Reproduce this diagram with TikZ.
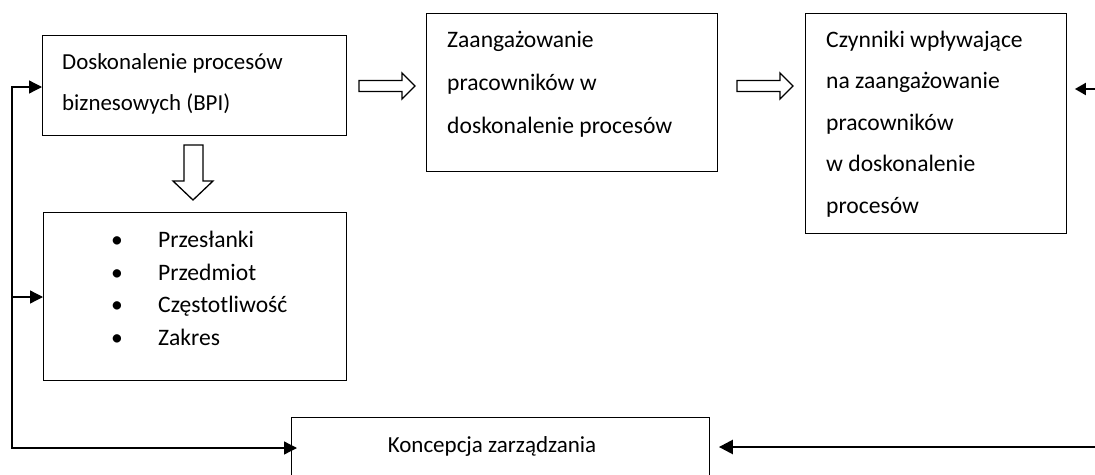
\documentclass[tikz,border=0pt]{standalone}
\usepackage{fontspec}
\setmainfont{Carlito}
\usetikzlibrary{arrows.meta}
\begin{document}
\begin{tikzpicture}[x=1pt,y=-1pt,
  >={Triangle[length=13pt,width=13pt]},
  box/.style={draw, line width=0.9pt, inner sep=0pt, anchor=north west},
  txt/.style={anchor=base west, align=left, inner sep=0pt},
  conn/.style={line width=1.3pt},
  heavy/.style={line width=2.5pt, -{Triangle[length=14pt,width=14pt]}},
  blockarrow/.style={draw, line width=1.3pt, fill=white, line join=miter}
]
\useasboundingbox (0,0) rectangle (1095,474);
% boxes
\node[box, minimum width=304, minimum height=100] (bpi) at (42,35) {};
\node[box, minimum width=291, minimum height=158] (zaang) at (426,13) {};
\node[box, minimum width=261, minimum height=220] (czyn) at (805,13) {};
\node[box, minimum width=303, minimum height=168] (lista) at (43,212) {};
\node[box, minimum width=418, minimum height=75] (konc) at (291,417) {};
% texts (anchored at the baseline of their last line)
\node[txt, font=\fontsize{22.9}{41}\selectfont] (tbpi) at (62,110) {Doskonalenie procesów\\biznesowych (BPI)};
\node[txt, font=\fontsize{23.6}{43}\selectfont] (tzaang) at (447,133) {Zaangażowanie\\pracowników w\\doskonalenie procesów};
\node[txt, font=\fontsize{23.6}{41.5}\selectfont] (tczyn) at (826,213) {Czynniki wpływające\\na zaangażowanie\\pracowników\\w doskonalenie\\procesów};
\node[txt, font=\fontsize{23.6}{32.5}\selectfont] (tlista) at (111,345) {\makebox[47pt][l]{•}Przesłanki\\\makebox[47pt][l]{•}Przedmiot\\\makebox[47pt][l]{•}Częstotliwość\\\makebox[47pt][l]{•}Zakres};
\node[anchor=base, inner sep=0pt, font=\fontsize{23}{25}\selectfont] (tkonc) at (492,452) {Koncepcja zarządzania};
% block arrows
\draw[blockarrow] (359,80.5) -- (402,80.5) -- (402,73) -- (415,86) -- (402,99) -- (402,91.5) -- (359,91.5) -- cycle;
\draw[blockarrow] (737,80.5) -- (780,80.5) -- (780,73) -- (793,86) -- (780,99) -- (780,91.5) -- (737,91.5) -- cycle;
\draw[blockarrow] (184,145) -- (203,145) -- (203,181) -- (213,181) -- (193,200) -- (173,181) -- (184,181) -- cycle;
% left feedback connector
\coordinate (lt) at (12,87);
\coordinate (lm) at (12,297);
\coordinate (lb) at (12,448);
\draw[conn, <->, shorten >=-6pt] (bpi.west |- lt) -- (lt) -- (lb) -- (konc.west |- lb);
\draw[conn, ->] (lm) -- (lista.west |- lm);
% right connectors
\coordinate (rt) at (1100,89);
\coordinate (rb) at (1100,447);
\draw[line width=2pt, -{Triangle[length=11pt,width=12pt]}, shorten >=8pt] (rt) -- (czyn.east |- rt);
\draw[heavy, shorten >=9pt] (rb) -- (konc.east |- rb);
\end{tikzpicture}
\end{document}
